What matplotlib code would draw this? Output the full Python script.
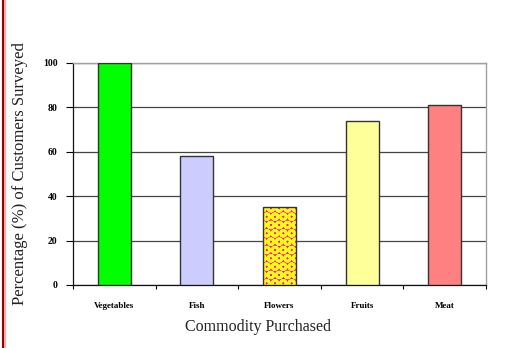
import matplotlib
matplotlib.use("Agg")
import matplotlib.pyplot as plt
from matplotlib.lines import Line2D
import numpy as np

categories = ["Vegetables", "Fish", "Flowers", "Fruits", "Meat"]
values = [100, 58, 35, 74, 81]
colors = ["#00FF00", "#CCCCFF", "#FF00FF", "#FFFF99", "#FF8080"]
yticks = [0, 20, 40, 60, 80, 100]

plt.rcParams["font.family"] = ["Liberation Serif", "DejaVu Serif"]
plt.rcParams["hatch.linewidth"] = 2.0

fig = plt.figure(figsize=(5.17, 3.48), dpi=100)
ax = fig.add_axes([73 / 517, 1 - 285 / 348, 413 / 517, 222 / 348])

x = np.arange(len(categories))
for i, (v, c) in enumerate(zip(values, colors)):
    if categories[i] == "Flowers":
        ax.bar(x[i], v, width=0.4, color=c, edgecolor="#FFFF00", hatch="OO",
               linewidth=0, zorder=3)
        ax.bar(x[i], v, width=0.4, fill=False, edgecolor="#333333",
               linewidth=1.0, zorder=4)
    else:
        ax.bar(x[i], v, width=0.4, color=c, edgecolor="#333333",
               linewidth=1.0, zorder=3)

ax.set_xlim(-0.5, len(categories) - 0.5)
ax.set_ylim(0, 100)
ax.set_yticks(yticks)
ax.set_yticklabels([str(t) for t in yticks], fontsize=7, fontweight="bold")
ax.yaxis.grid(True, color="#444444", linewidth=0.9, zorder=1)
ax.set_axisbelow(True)

ax.set_xticks(x)
ax.set_xticklabels(categories, fontsize=6.5, fontweight="bold")
ax.set_xticks(np.arange(-0.5, len(categories)), minor=True)
ax.tick_params(axis="x", which="major", length=0, pad=12)
ax.tick_params(axis="x", which="minor", length=3, width=0.8, direction="out")
ax.tick_params(axis="y", length=5, width=0.8, direction="out", pad=6)

for s in ["top", "right"]:
    ax.spines[s].set_color("#A0A0A0")
    ax.spines[s].set_linewidth(1.0)
ax.spines["left"].set_color("#111111")
ax.spines["bottom"].set_color("#111111")
ax.spines["left"].set_linewidth(0.9)
ax.spines["bottom"].set_linewidth(0.9)

ax.set_xlabel("Commodity Purchased", fontsize=11.5, color="#222222")
ax.xaxis.set_label_coords((258 - 73) / 413, -0.155)
ax.set_ylabel("Percentage (%) of Customers Surveyed", fontsize=12,
              color="#222222", labelpad=11)

fig.add_artist(Line2D([4 / 517, 4 / 517], [0, 1], color="#F0B0B0",
                      linewidth=3.0, transform=fig.transFigure))
fig.add_artist(Line2D([3 / 517, 3 / 517], [0, 1], color="#990000",
                      linewidth=1.5, transform=fig.transFigure))

fig.savefig("out.png", dpi=100)
